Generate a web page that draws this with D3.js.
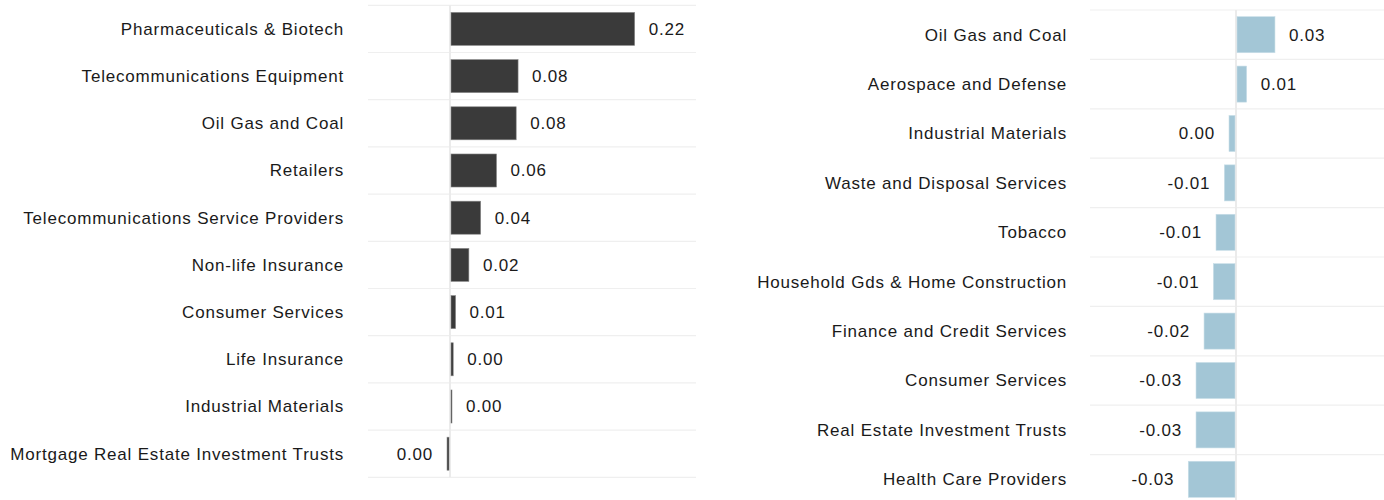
<!DOCTYPE html>
<html>
<head>
<meta charset="utf-8">
<script src="https://cdn.jsdelivr.net/npm/d3@7"></script>
<style>
  body { margin: 0; background: #fff; }
  svg text { font-family: "Liberation Sans", Arial, sans-serif; fill: #1a1a1a; }
</style>
</head>
<body>
<div id="chart"></div>
<script>
// left panel: top contributors
const leftCategories = [
    'Pharmaceuticals & Biotech',
    'Telecommunications Equipment',
    'Oil Gas and Coal',
    'Retailers',
    'Telecommunications Service Providers',
    'Non-life Insurance',
    'Consumer Services',
    'Life Insurance',
    'Industrial Materials',
    'Mortgage Real Estate Investment Trusts'
];
const leftValues = [0.224, 0.0818, 0.0795, 0.0555, 0.0362, 0.0218, 0.0056, 0.0027, 0.0012, -0.0024];

// right panel: bottom contributors
const rightCategories = [
    'Oil Gas and Coal',
    'Aerospace and Defense',
    'Industrial Materials',
    'Waste and Disposal Services',
    'Tobacco',
    'Household Gds & Home Construction',
    'Finance and Credit Services',
    'Consumer Services',
    'Real Estate Investment Trusts',
    'Health Care Providers'
];
const rightValues = [0.026, 0.0066, -0.0041, -0.0073, -0.013, -0.0148, -0.0212, -0.0267, -0.0267, -0.032];

const fmt = d3.formatLocale({
    decimal: '.', thousands: ',', grouping: [3], currency: ['', ''], minus: '-'
}).format('.2f');

const svg = d3.select('#chart').append('svg')
    .attr('width', 1384)
    .attr('height', 500);

function drawPanel(opts) {
    const x = d3.scaleLinear().domain(opts.domain).range(opts.xRange);
    const y = d3.scaleBand()
        .domain(opts.categories)
        .range(opts.yRange)
        .paddingInner(opts.padding)
        .paddingOuter(opts.padding / 2);

    const g = svg.append('g');
    const step = y.step();

    // horizontal separators between rows
    g.selectAll('line.grid')
        .data(d3.range(opts.categories.length + 1))
        .join('line')
        .attr('class', 'grid')
        .attr('x1', opts.gridX[0])
        .attr('x2', opts.gridX[1])
        .attr('y1', i => opts.yRange[0] + i * step)
        .attr('y2', i => opts.yRange[0] + i * step)
        .attr('stroke', '#efefef')
        .attr('stroke-width', 1.2);

    // zero line
    g.append('line')
        .attr('x1', x(0)).attr('x2', x(0))
        .attr('y1', opts.yRange[0]).attr('y2', opts.yRange[1])
        .attr('stroke', '#ebebeb')
        .attr('stroke-width', 2);

    const rows = opts.categories.map((c, i) => ({ cat: c, value: opts.values[i] }));

    g.selectAll('rect.bar')
        .data(rows)
        .join('rect')
        .attr('class', 'bar')
        .attr('x', d => Math.min(x(0), x(d.value)) + (d.value >= 0 ? 1 : -1))
        .attr('width', d => Math.abs(x(d.value) - x(0)))
        .attr('y', d => y(d.cat))
        .attr('height', y.bandwidth())
        .attr('fill', opts.color)
        .attr('stroke', opts.stroke)
        .attr('stroke-width', 0.6);

    // category labels
    g.selectAll('text.cat')
        .data(rows)
        .join('text')
        .attr('class', 'cat')
        .attr('x', opts.labelX)
        .attr('y', d => y(d.cat) + y.bandwidth() / 2)
        .attr('dy', '0.35em')
        .attr('text-anchor', 'end')
        .style('font-size', '17px')
        .style('letter-spacing', '0.8px')
        .text(d => d.cat);

    // value labels
    g.selectAll('text.val')
        .data(rows)
        .join('text')
        .attr('class', 'val')
        .attr('x', d => d.value >= 0 ? x(d.value) + 15 : x(d.value) - 15)
        .attr('y', d => y(d.cat) + y.bandwidth() / 2)
        .attr('dy', '0.35em')
        .attr('text-anchor', d => d.value >= 0 ? 'start' : 'end')
        .style('font-size', '17px')
        .style('letter-spacing', '0.8px')
        .text(d => fmt(d.value));
}

drawPanel({
    categories: leftCategories,
    values: leftValues,
    domain: [-0.1, 0.3],
    xRange: [368, 696],
    gridX: [368, 696],
    yRange: [5.3, 477.3],
    padding: 0.3,
    color: '#3a3a3a',
    stroke: '#8a8a8a',
    labelX: 344
});

drawPanel({
    categories: rightCategories,
    values: rightValues,
    domain: [-0.1, 0.1],
    xRange: [1090, 1382],
    gridX: [1090, 1384],
    yRange: [10, 504],
    padding: 0.27,
    color: '#a3c6d6',
    stroke: '#c9dee8',
    labelX: 1067
});
</script>
</body>
</html>
